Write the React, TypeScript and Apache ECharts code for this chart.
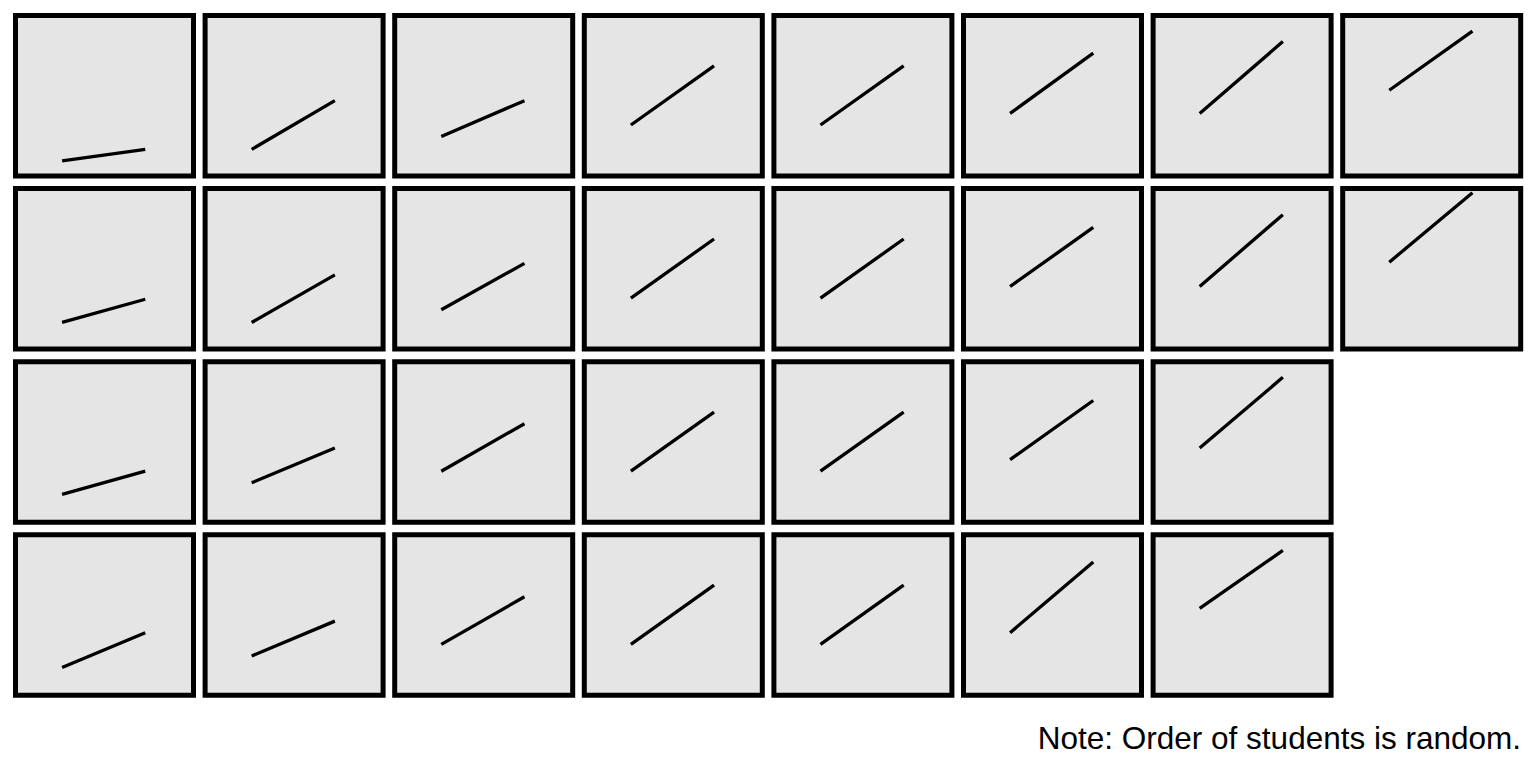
import React, { useEffect, useRef } from 'react';
import * as echarts from 'echarts';

// two measurement occasions per student
const occasions = [1, 2];

// panels per row of the facet layout
const rowLengths = [8, 8, 7, 7];

// one panel per student, read left-to-right, top-to-bottom
const firstScores = [
  0.9, 1.9, 3.0, 4.0, 4.0, 5.0, 5.0, 7.0,
  1.9, 1.9, 3.0, 4.0, 4.0, 5.0, 5.0, 7.1,
  2.0, 3.0, 4.0, 4.0, 4.0, 5.0, 6.0,
  2.0, 3.0, 4.0, 4.0, 4.0, 5.0, 7.1,
];
const secondScores = [
  1.9, 6.1, 6.1, 9.1, 9.1, 10.2, 11.2, 12.1,
  3.9, 6.0, 7.0, 9.1, 9.1, 10.1, 11.2, 13.1,
  4.0, 6.0, 8.1, 9.1, 9.1, 10.1, 12.1,
  5.0, 6.0, 8.1, 9.1, 9.1, 11.1, 12.1,
];

const noteText = 'Note: Order of students is random.';

export default function App() {
  const ref = useRef<HTMLDivElement>(null);
  useEffect(() => {
    if (!ref.current) return;
    const chart = echarts.init(ref.current, null, { renderer: 'svg' });

    // row/col position of every panel
    const cells: { row: number; col: number }[] = [];
    rowLengths.forEach((n, row) => {
      for (let col = 0; col < n; col++) cells.push({ row, col });
    });

    const grids: any[] = [];
    const xAxes: any[] = [];
    const yAxes: any[] = [];
    const series: any[] = [];
    firstScores.forEach((s, i) => {
      const { row, col } = cells[i];
      grids.push({
        left: 15.5 + col * 189.6,
        top: 15.5 + row * 173.1,
        width: 178,
        height: 160.5,
        show: true,
        backgroundColor: '#e5e5e5',
        borderColor: '#000',
        borderWidth: 5,
      });
      xAxes.push({ type: 'value', gridIndex: i, min: 0.44, max: 2.58, show: false });
      yAxes.push({ type: 'value', gridIndex: i, min: -0.4, max: 13.45, show: false });
      series.push({
        type: 'line',
        xAxisIndex: i,
        yAxisIndex: i,
        data: [
          [occasions[0], s],
          [occasions[1], secondScores[i]],
        ],
        showSymbol: false,
        silent: true,
        lineStyle: { color: '#000', width: 3.3 },
      });
    });

    chart.setOption({
      animation: false,
      grid: grids,
      xAxis: xAxes,
      yAxis: yAxes,
      series,
      graphic: [
        {
          type: 'text',
          right: 15,
          top: 722,
          style: {
            text: noteText,
            fill: '#000',
            font: '31.5px "Liberation Sans", Arial, sans-serif',
          },
        },
      ],
    });
    return () => { chart.dispose(); };
  }, []);
  return <div ref={ref} style={{ position: 'absolute', left: 0, top: 0, width: 1536, height: 768, background: '#fff' }} />;
}
